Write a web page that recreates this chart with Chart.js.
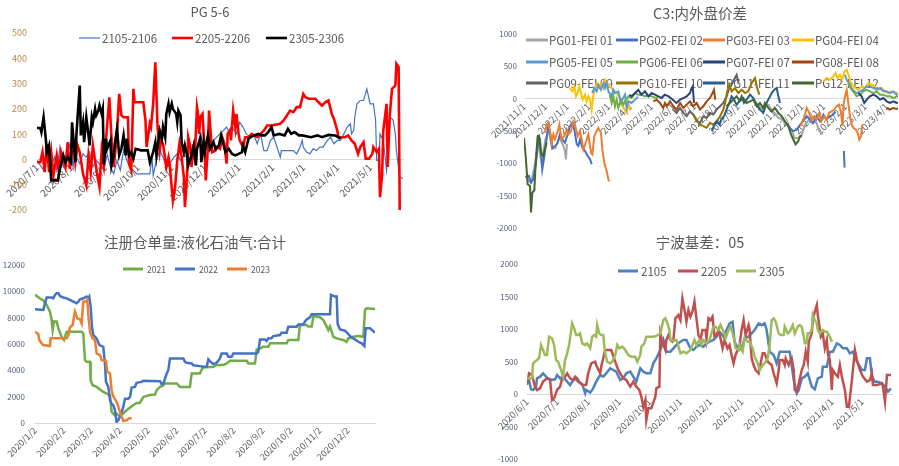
<!DOCTYPE html>
<html><head><meta charset="utf-8">
<script src="https://cdn.jsdelivr.net/npm/chart.js@4.4.1/dist/chart.umd.min.js"></script>
<style>
html,body{margin:0;padding:0;background:#fff;width:899px;height:466px;overflow:hidden;}
canvas{position:absolute;}
</style></head><body>
<canvas id="c1" width="450" height="233" style="left:0;top:0"></canvas>
<canvas id="c2" width="449" height="233" style="left:450px;top:0"></canvas>
<canvas id="c3" width="450" height="233" style="left:0;top:233px"></canvas>
<canvas id="c4" width="449" height="233" style="left:450px;top:233px"></canvas>
<script>
// ===== Chart 1: PG 5-6 (x = days since 2020/7/1) =====
const pgTicks = ['2020/7/1','2020/8/1','2020/9/1','2020/10/1','2020/11/1','2020/12/1','2021/1/1','2021/2/1','2021/3/1','2021/4/1','2021/5/1'];
const s2105 = [[0,-4],[6,-43],[9,22],[12,35],[13,-30],[16,9],[18,-43],[21,49],[24,-30],[27,-4],[30,62],[33,-30],[35,62],[36,9],[39,-17],[42,22],[45,9],[48,29],[51,-30],[54,-4],[57,-17],[61,-43],[64,22],[67,-30],[70,-57],[73,-4],[76,-43],[79,36],[82,-4],[85,-30],[88,-43],[91,-57],[103,-57],[105,9],[106,-63],[109,-4],[112,35],[115,9],[118,-30],[121,-17],[125,9],[128,22],[131,-4],[134,16],[137,9],[140,35],[143,3],[146,49],[149,101],[152,49],[155,75],[158,49],[161,75],[164,88],[167,101],[170,114],[173,128],[176,101],[179,121],[182,101],[185,147],[188,128],[191,101],[195,88],[198,95],[201,62],[204,101],[207,35],[210,35],[213,75],[216,88],[219,49],[222,9],[223,35],[228,35],[234,35],[237,22],[240,49],[242,75],[243,49],[246,29],[249,22],[252,42],[255,35],[258,49],[261,49],[265,75],[268,88],[271,62],[274,75],[277,75],[280,101],[283,128],[286,141],[287,101],[289,114],[290,167],[292,220],[295,233],[298,233],[301,279],[304,220],[307,220],[309,154],[310,-4],[312,-4],[313,101],[316,75],[319,-43],[321,49],[322,167],[324,160],[325,154],[327,101],[328,35],[331,-70],[334,-76]];
const s2205 = [[0,-11],[3,-11],[5,29],[7,-50],[9,62],[11,-50],[13,29],[15,-63],[18,16],[20,-50],[22,29],[26,-30],[28,68],[30,-37],[33,75],[35,-11],[37,55],[39,29],[42,-57],[45,-103],[47,16],[49,-50],[51,55],[55,-63],[57,-109],[59,36],[61,-24],[64,134],[66,246],[68,82],[70,-30],[73,100],[75,259],[77,174],[79,167],[83,167],[84,-17],[86,-43],[88,279],[89,226],[97,226],[99,154],[100,49],[103,141],[104,128],[106,220],[108,384],[110,128],[112,36],[113,75],[115,62],[118,-30],[120,9],[121,-17],[124,-162],[126,-109],[128,-4],[130,62],[132,9],[134,-70],[135,-188],[137,-57],[138,88],[140,49],[141,-30],[143,62],[144,9],[146,207],[147,180],[148,101],[149,167],[151,180],[153,36],[154,-83],[156,49],[157,193],[159,75],[160,29],[163,36],[164,49],[167,42],[169,88],[171,62],[173,-17],[174,101],[176,115],[177,75],[179,193],[181,128],[182,180],[184,101],[185,75],[188,49],[190,88],[193,88],[196,101],[201,88],[204,101],[207,114],[210,134],[214,134],[222,141],[225,154],[228,174],[231,193],[234,187],[237,207],[240,207],[243,259],[245,246],[248,240],[254,240],[257,226],[260,213],[263,226],[266,233],[269,180],[271,160],[274,115],[275,88],[278,88],[281,88],[284,95],[287,75],[290,62],[293,22],[295,49],[298,68],[300,3],[303,3],[306,22],[307,49],[310,29],[312,42],[313,-149],[315,-57],[316,114],[319,220],[320,-30],[322,180],[324,279],[327,292],[328,378],[330,365],[331,-201]];
const s2305 = [[0,124],[3,124],[4,108],[6,167],[8,82],[9,29],[11,55],[13,-83],[16,-83],[19,-83],[21,-37],[24,16],[26,-11],[28,9],[31,-11],[32,147],[35,-11],[36,101],[39,292],[40,95],[42,147],[43,68],[45,167],[47,95],[48,55],[50,167],[51,147],[53,200],[54,174],[56,193],[57,213],[59,180],[60,200],[61,-20],[63,82],[64,42],[67,75],[68,-24],[70,16],[71,62],[73,121],[75,16],[77,42],[79,95],[81,16],[82,82],[84,16],[86,29],[88,3],[90,42],[95,36],[101,36],[103,-11],[106,29],[108,68],[109,16],[112,114],[114,82],[115,128],[117,88],[118,180],[120,220],[121,187],[123,220],[124,200],[127,180],[128,147],[129,193],[131,174],[132,68],[134,29],[135,55],[137,16],[138,-24],[140,3],[141,16],[143,55],[145,-24],[146,42],[149,82],[150,-11],[152,68],[153,29],[156,95],[158,42],[161,68],[163,42],[166,55],[168,95],[172,29],[175,42],[178,22],[181,16],[184,22],[187,29],[188,55],[190,29],[193,82],[195,88],[198,95],[202,101],[205,95],[208,95],[211,108],[214,128],[216,95],[221,101],[226,95],[229,121],[232,101],[235,108],[239,95],[242,95],[250,88],[256,95],[260,88],[266,97],[272,95],[275,88],[277,82]];

// ===== Chart 2: C3 内外盘价差 (x = days since 2021/11/1) =====
const c3Ticks = ['2021/11/1','2021/12/1','2022/1/1','2022/2/1','2022/3/1','2022/4/1','2022/5/1','2022/6/1','2022/7/1','2022/8/1','2022/9/1','2022/10/1','2022/11/1','2022/12/1','2023/1/1','2023/2/1','2023/3/1','2023/4/1'];
const pg01 = [[5,-1250],[10,-1300],[16,-1000],[20,-650],[25,-1000],[30,-650],[35,-480],[40,-780],[45,-760],[50,-600],[55,-700],[58,-800],[59.7,-940],[61,-700],[62,null],[330,-60],[335,-120],[340,-170],[343,-80],[348,-100],[352,-180],[357,-230],[362,-300],[366,-310],[371,-360],[376,-410],[381,-500],[385,-605],[390,-610],[395,-560],[400,-400],[405,-330],[410,-380],[415,-350],[420,-500],[425,-550]];
const pg02 = [[2,-1200],[3.8,-1220],[7,-1195],[10,-1297],[13,-1250],[16.6,-1041],[20.4,-656],[22.8,-630],[26,-1092],[29,-887],[32,-630],[34.6,-425],[38.4,-605],[40.3,-759],[44,-733],[48,-682],[51,-553],[54.5,-630],[58.3,-682],[62,-553],[65.4,-425],[68.8,-374],[71.6,-477],[75,-707],[77.3,-733],[79.7,-630],[83,-759],[86.8,-810],[90.6,-887],[94,-938],[96.3,-1015],[97,null],[372,-374],[378,-450],[383,-502],[388,-480],[393,-400],[397,-349],[402,-272],[407,-323],[411.5,-374],[416,-272],[421,-349],[426,-246],[430,-323],[435,-272],[440,-246],[443,-200],[444,null],[455,-810],[456,-1067]];
const pg03 = [[30,-528],[32,-400],[34.6,-374],[37,-502],[39.4,-682],[41.7,-553],[44,-630],[48,-502],[50.3,-400],[53.6,-630],[57.4,-580],[60.7,-477],[63,-553],[67,-502],[70,-349],[72.5,-400],[76.3,-580],[79.7,-502],[82,-630],[84.4,-785],[87.7,-682],[91.5,-553],[95.3,-836],[97.2,-862],[100,-580],[103.4,-502],[105.7,-451],[109.5,-528],[111.4,-785],[114.3,-990],[117.6,-1118],[120,-1246],[121,-1280],[122,null],[393,-426],[399,-272],[402,-144],[405,-200],[409,-323],[413,-272],[416,-323],[420,-220],[423,-349],[427,-272],[430.5,-323],[434,-220],[437.6,-195],[441.4,-169],[444.7,-118],[448,-92],[451,-220],[453,-420],[454.5,-100],[456.6,36],[459,140],[461.3,-67],[463.7,-272],[466,-400],[468.5,-451],[471.8,-477],[474.6,-528],[477,-631],[479.4,-580],[481.3,-400]];
const pg04 = [[65,164],[68.8,113],[71.6,190],[74,36],[76.3,87],[78.7,190],[81,87],[83.5,-15],[86.8,62],[89,-41],[91.5,36],[94,-15],[96.3,-169],[98.6,62],[101,138],[103.4,241],[106.7,164],[109.5,241],[113,164],[115.2,292],[117.6,267],[121,190],[124.7,164],[128.5,113],[131.8,87],[135,36],[139,-92],[142.7,-169],[146,-220],[148.4,-67],[150.8,-169],[152,null],[426,267],[430.5,318],[435,292],[440,344],[443.3,395],[446,318],[449.5,369],[452.8,292],[455.7,420],[459,446],[462.3,344],[465,241],[468.5,190],[471.8,164],[475.6,138],[480.3,190],[485,164],[489.8,241],[494.5,215],[499.3,190],[504,138],[508.7,164],[513.5,113],[518,87],[523,113],[527.7,87],[531,100]];
const pg05 = [[97,87],[100,164],[103.4,113],[105.7,215],[109.5,138],[113,241],[115.2,164],[117.6,241],[120,113],[124.7,36],[127,138],[129.4,87],[134.2,113],[138,-67],[140,-15],[143.7,62],[146,-144],[148.4,-41],[153,-67],[158,-15],[162,30],[163,null],[456.6,369],[459,292],[462.3,241],[466,164],[470,113],[473,87],[478,113],[482.7,138],[487.4,190],[492,190],[497,164],[501.6,138],[506.4,164],[511,113],[516,113],[520.6,87],[525.4,113],[530,62],[532,70]];
const pg06 = [[122,62],[124.7,-67],[127,36],[129.4,-118],[131.8,-15],[134.2,-144],[138,-15],[141.3,-92],[143.7,-41],[148.4,36],[153,10],[158,87],[162.6,60],[167,62],[172,36],[177,50],[181.6,36],[186,20],[190,10],[191,null],[461,241],[466,138],[470,87],[473,36],[478,62],[482.7,113],[487.4,138],[492,113],[497,87],[501.6,113],[506.4,62],[511,62],[516,36],[520.6,36],[525.4,10],[530,36],[532,40]];
const pg07 = [[150,60],[153,36],[158,87],[162.6,138],[167,62],[172,113],[177,36],[181.6,87],[186.3,62],[191,36],[195.8,10],[200,60],[205,40],[210,0],[217,-67],[222,-15],[226.6,10],[231.4,36],[236,87],[238,150],[240,190],[241.8,-67],[243,null],[475.6,87],[480.3,36],[484,-67],[487.4,-15],[492,36],[497,62],[501.6,36],[506.4,-15],[511,10],[516,-41],[520.6,-67],[525.4,-41],[530,-67],[532,-60]];
const pg08 = [[184,-41],[188.7,-15],[193.4,-67],[198,-144],[200.6,-67],[203,-118],[207.7,-41],[212.4,-118],[217,-169],[222,-67],[226.6,-144],[231.4,-92],[236,-41],[240.9,-118],[245.6,-67],[250.3,-169],[255,-118],[259.8,-41],[264.6,10],[267,62],[270.3,138],[272,-15],[273,null],[516,-144],[520,-169],[525,-144],[530,-160],[532,-150]];
const pg09 = [[212.4,-169],[217,-220],[222,-144],[226.6,-220],[231.4,-272],[236,-195],[240.9,-246],[245.6,-349],[250.3,-374],[255,-272],[259.8,-298],[264.6,-220],[269.3,-246],[274,-169],[278.8,-118],[283.5,-67],[288.3,36],[292,164],[295.4,215],[298.7,292],[302.5,369],[305,241]];
const pg10 = [[241,-246],[245.6,-323],[250.3,-400],[255,-426],[259.8,-451],[264.6,-374],[269.3,-400],[274,-349],[278.8,-272],[283.5,-169],[286,-67],[289.2,113],[292,215],[295.4,113],[300,164],[304.9,87],[309.6,138],[314.4,87],[319,113],[323.8,241],[328.6,318],[331,190],[334.7,62]];
const pg11 = [[267,-502],[270,-426],[274,-349],[278,-400],[281,-323],[284.5,-272],[288,-169],[292,-67],[295.4,36],[298.7,-15],[302.5,-92],[306.3,-41],[309.6,36],[313,-67],[316.7,-15],[321.5,62],[326.2,10],[331,-92],[335.7,-169],[340.4,-220],[345,-67],[347.5,-15],[352.3,87],[356,138],[359.4,164],[361.8,36],[364.1,-67]];
const pg12 = [[0,-605],[2.4,-887],[5.2,-1323],[8.5,-1350],[10,-1759],[11.9,-1451],[14.7,-1420],[16.6,-990],[19.4,-580],[21.3,-570],[24.2,-836],[27.5,-887],[28.9,-810],[32.2,-682],[33,null],[288,-118],[293,-67],[297.8,-15],[302.5,36],[307,-41],[312,10],[316.7,-67],[321.5,-41],[326.2,-15],[331,-118],[335.7,-67],[340.4,-144],[342.8,-67],[347.5,-144],[352.3,-195],[357,-144],[361.8,-220],[366.5,-272],[371.2,-349],[376,-426],[379.8,-554],[383.1,-631],[386.4,-708],[390.2,-656],[392.6,-580],[394,-560]];

// ===== Chart 3: 注册仓单量 (x = days since 2020/1/2) =====
const wrTicks = ['2020/1/2','2020/2/2','2020/3/2','2020/4/2','2020/5/2','2020/6/2','2020/7/2','2020/8/2','2020/9/2','2020/10/2','2020/11/2','2020/12/2'];
const wr2021 = [[0,9750],[5,9470],[9,9300],[12.5,8970],[16,8460],[17.8,7820],[18.9,7060],[20.3,7700],[23.2,7700],[25,7190],[28.5,6550],[31,6300],[33.2,6800],[34,6930],[50,6930],[51.7,6800],[53.5,4780],[55.3,4650],[58.9,4650],[59.6,3250],[61.7,2870],[66,2740],[69.6,2540],[73.1,2360],[76.7,2240],[80.3,2100],[82,840],[83.8,710],[85.6,580],[87.4,710],[91,500],[98,970],[105,1350],[109,1520],[112,1520],[114,1730],[116,1980],[119.5,2060],[123,2130],[128.5,2160],[130.2,2490],[133.8,2740],[137.4,2870],[139.2,3000],[151.7,3000],[155.2,2740],[165.9,2740],[167.7,3760],[176.6,3760],[178.4,4060],[180.2,4220],[190.9,4270],[194.5,4400],[201.6,4400],[205.2,4520],[208.8,4720],[226.6,4720],[228.4,4520],[235.5,4520],[237.3,5590],[240.9,5660],[244.4,5790],[249.8,5790],[251.6,6050],[269.4,6050],[271.2,6300],[281.9,6300],[283.7,7440],[290.8,7440],[292.6,7320],[296.2,7320],[298,8130],[305,8030],[308.7,7820],[310.5,7570],[312.3,7320],[314,7060],[315.8,7320],[319.4,6550],[323,6430],[330.1,6300],[333.7,6170],[335.4,6430],[337.2,6430],[340.8,6550],[346.2,6600],[351.5,6550],[353.3,8590],[355.1,8710],[364,8660]];
const wr2022 = [[0,8640],[9,8590],[10.7,9090],[12.5,9530],[17.8,9530],[19.6,9470],[21.4,9730],[23.2,9860],[25,9860],[26.7,9650],[30.3,9530],[33.9,9470],[37.4,9350],[41,9220],[44.6,9090],[46.4,9220],[48.2,9400],[51.7,9470],[55.3,9600],[57.1,9470],[58.1,9600],[59.6,8840],[61,7310],[62.4,6680],[66,6430],[68.9,5920],[73.1,5790],[74.9,4520],[76,3120],[78.5,2740],[80.3,1730],[82,1470],[83.8,1350],[85.6,970],[87.4,80],[89.2,200],[91.7,580],[94.5,1220],[96.3,1850],[99.9,1850],[101.7,1980],[103.5,2690],[107,2740],[108.8,3050],[114.2,3120],[116,3200],[133.8,3180],[135.6,2950],[137.4,3000],[141,3760],[142.7,4010],[144.5,4900],[158.8,4900],[160.6,4650],[162.4,4570],[167.7,4520],[169.5,4390],[176.6,4320],[180.2,4270],[183.8,4270],[185.6,4830],[189.1,4570],[190.9,4470],[194.5,4570],[198,4900],[199.8,5280],[205.2,5280],[207,5030],[210.5,5030],[212.3,5280],[237.3,5280],[239.1,5410],[240.9,6350],[246.2,6350],[248,6220],[249.8,6430],[253,6430],[255.1,6600],[262.3,6680],[264,6860],[269.4,6860],[271.2,7310],[280.1,7310],[281.9,7490],[287.3,7490],[289,7700],[290.8,7870],[294.4,8030],[296.2,8260],[315.8,8260],[316.9,9730],[321.2,9600],[323,9600],[324,7520],[326.5,7110],[331.9,7010],[335.4,6760],[337.2,6600],[340.8,6430],[346.2,6170],[349.7,6050],[352.6,5840],[354,7190],[358.7,7190],[364,6860]];
const wr2023 = [[0,6930],[3.5,6760],[4.6,6300],[7.1,6050],[8.9,5920],[16,5840],[16.7,6430],[33.9,6430],[35.7,6680],[37.4,7260],[40.3,7440],[41.7,8080],[42.8,8460],[45.3,7950],[48.2,7870],[49.9,7570],[51.7,9220],[54.6,9220],[56,9350],[57.4,7950],[58.9,6930],[61.7,6430],[64.2,6300],[66,5280],[69.6,5160],[71.4,4780],[76,4730],[77.4,3890],[80.3,3760],[82,2490],[83.8,2030],[87.4,1600],[89.2,1220],[91,840],[92.8,460],[94.5,150],[98.1,200],[99.9,330],[103.5,380]];

// ===== Chart 4: 宁波基差 (x = days since 2020/6/1) =====
const nbTicks = ['2020/6/1','2020/7/1','2020/8/1','2020/9/1','2020/10/1','2020/11/1','2020/12/1','2021/1/1','2021/2/1','2021/3/1','2021/4/1','2021/5/1'];
const nb2105 = [[0,164],[2,215],[4,72],[6,62],[9,113],[10,241],[13,267],[16,318],[19,267],[21,241],[25,215],[28,226],[30,292],[33,241],[36,267],[40,190],[43,138],[45,190],[48,241],[51,190],[55,154],[58,10],[59,62],[63,21],[66,87],[69,190],[73,292],[76,267],[79,318],[83,395],[86,369],[89,344],[93,215],[96,241],[99,318],[103,344],[106,267],[109,190],[113,395],[116,344],[119,318],[123,318],[126,472],[129,549],[133,677],[136,831],[139,651],[143,651],[146,703],[149,754],[153,805],[156,831],[159,831],[163,703],[166,677],[169,728],[172,754],[176,728],[179,779],[182,805],[186,831],[189,882],[192,959],[196,882],[199,985],[202,1087],[205,1113],[207,805],[211,677],[214,703],[217,856],[221,882],[224,933],[227,985],[231,1087],[234,1061],[237,1087],[239,985],[242,651],[246,600],[249,472],[252,651],[256,651],[259,651],[262,651],[266,215],[269,10],[271,62],[274,241],[277,267],[280,318],[284,113],[287,72],[290,241],[294,267],[295,420],[299,420],[302,651],[305,651],[309,779],[312,754],[315,703],[319,703],[322,626],[325,651],[329,497],[334,369],[337,369],[339,549],[342,549],[344,267],[347,190],[350,190],[354,164],[357,113],[360,36],[363,87]];
const nb2205 = [[0,138],[2,318],[5,292],[8,113],[10,62],[13,87],[16,190],[20,241],[23,215],[25,-92],[27,-67],[30,62],[33,113],[35,241],[38,267],[40,318],[43,241],[46,215],[48,267],[50,241],[53,164],[56,138],[59,138],[61,318],[64,472],[68,497],[69,446],[73,318],[74,420],[78,677],[81,677],[84,677],[88,497],[91,369],[93,318],[96,241],[99,215],[103,113],[106,190],[109,113],[112,62],[114,-41],[116,-195],[118,-92],[119,-400],[121,-220],[124,-220],[128,-41],[129,87],[132,113],[133,933],[135,805],[138,677],[139,831],[141,907],[143,831],[145,805],[146,831],[148,1164],[151,1215],[153,1138],[155,1471],[158,1215],[159,1113],[161,1292],[163,1190],[165,1266],[167,1420],[169,1164],[171,907],[173,831],[175,985],[178,985],[179,856],[181,1164],[183,1138],[185,1190],[187,882],[189,907],[191,985],[193,856],[195,703],[197,831],[200,703],[202,754],[204,600],[206,472],[208,600],[210,677],[212,754],[214,985],[216,1138],[218,907],[221,1061],[222,985],[224,549],[226,446],[228,369],[231,318],[233,472],[235,626],[237,626],[240,497],[242,472],[244,446],[246,318],[249,164],[251,369],[252,523],[255,523],[257,446],[258,549],[261,446],[262,497],[264,549],[266,369],[267,62],[269,36],[271,164],[274,369],[276,446],[278,651],[280,497],[281,805],[284,933],[285,1138],[287,1266],[289,1369],[290,1215],[293,882],[295,933],[297,703],[299,831],[300,626],[302,523],[304,62],[305,369],[307,318],[310,267],[312,446],[314,267],[317,62],[319,-195],[321,-195],[324,215],[327,677],[329,523],[332,369],[335,267],[339,190],[342,215],[344,318],[345,138],[349,138],[354,164],[355,113],[357,-118],[359,292],[363,292]];
const nb2305 = [[0,241],[5,241],[6,472],[10,523],[12,549],[14,754],[16,677],[18,600],[20,600],[22,882],[25,856],[27,754],[29,523],[31,497],[34,369],[36,267],[38,523],[40,626],[42,754],[45,1087],[47,1010],[49,907],[51,907],[53,933],[55,779],[58,754],[60,779],[63,703],[65,882],[67,907],[69,882],[70,1061],[72,933],[74,907],[76,907],[78,626],[80,497],[83,472],[85,497],[88,600],[90,754],[92,703],[95,728],[98,677],[101,600],[104,574],[108,574],[110,497],[113,600],[114,728],[117,779],[119,882],[123,882],[126,882],[129,893],[133,933],[136,1138],[138,1164],[140,1087],[142,985],[143,831],[146,820],[149,831],[153,626],[156,651],[159,626],[163,677],[165,754],[167,831],[169,754],[172,831],[174,754],[176,831],[179,779],[182,831],[186,1036],[188,1036],[191,985],[193,1061],[196,959],[198,856],[201,985],[203,1036],[206,882],[208,703],[211,677],[212,754],[215,651],[217,856],[220,805],[222,805],[225,703],[227,574],[230,472],[232,369],[235,446],[237,472],[240,549],[242,754],[244,1138],[246,1164],[248,1113],[251,933],[253,907],[256,907],[257,1036],[260,933],[262,959],[265,1061],[267,933],[270,1036],[272,1061],[274,1036],[276,882],[277,779],[279,779],[280,933],[282,933],[284,985],[285,1215],[287,1138],[289,1087],[290,985],[292,933],[295,985],[297,959],[299,959],[302,882],[304,805]];

// ===== rendering =====
const FONT = "'Noto Sans CJK SC','Noto Sans',sans-serif";
function dayOf(start, s) {
  const p = s.split('/').map(Number), q = start.split('/').map(Number);
  return Math.round((Date.UTC(p[0], p[1] - 1, p[2]) - Date.UTC(q[0], q[1] - 1, q[2])) / 86400000);
}
function noPad(sc) { sc.paddingTop = 0; sc.paddingBottom = 0; sc.paddingLeft = 0; sc.paddingRight = 0; }
function makeOverlay(cfg) {
  return {
    id: 'overlay',
    beforeDatasetsDraw(chart) {
      const ctx = chart.ctx;
      ctx.save();
      ctx.fillStyle = '#595959';
      ctx.textAlign = 'center';
      ctx.textBaseline = 'middle';
      ctx.font = cfg.titleSize + 'px ' + FONT;
      ctx.fillText(cfg.title, cfg.titlePos[0], cfg.titlePos[1]);
      ctx.textAlign = 'left';
      ctx.font = cfg.legendSize + 'px ' + FONT;
      cfg.legendPos.forEach((p, i) => {
        const ds = chart.data.datasets[i];
        ctx.strokeStyle = ds.borderColor;
        ctx.lineWidth = cfg.sampleWidth || ds.borderWidth;
        ctx.beginPath();
        ctx.moveTo(p[0], p[1]);
        ctx.lineTo(p[0] + cfg.sampleLen, p[1]);
        ctx.stroke();
        ctx.fillStyle = '#595959';
        ctx.fillText(ds.label, p[0] + cfg.sampleLen + cfg.gap, p[1] + 0.5);
      });
      ctx.restore();
    }
  };
}
function makeChart(id, cfg) {
  const tickDays = cfg.ticks.map(s => dayOf(cfg.start, s));
  return new Chart(document.getElementById(id), {
    type: 'line',
    data: {
      datasets: cfg.series.map((s, i) => ({
        label: s.label,
        data: s.data.map(p => ({ x: p[0], y: p[1] })),
        borderColor: s.color,
        borderWidth: s.width,
        pointRadius: 0, pointHoverRadius: 0, tension: 0, fill: false, spanGaps: false,
        order: -i
      }))
    },
    options: {
      responsive: false, animation: false, devicePixelRatio: 1, events: [],
      layout: { padding: cfg.padding, autoPadding: false },
      plugins: { legend: { display: false }, title: { display: false }, tooltip: { enabled: false } },
      scales: {
        x: {
          type: 'linear', position: { y: cfg.axisAt }, min: 0, max: dayOf(cfg.start, cfg.end),
          afterBuildTicks: sc => { sc.ticks = tickDays.map(v => ({ value: v })); },
          afterFit: noPad,
          ticks: {
            autoSkip: false, minRotation: 45, maxRotation: 45, padding: 2, color: '#595959',
            font: { family: FONT, size: cfg.xFont },
            callback: v => cfg.ticks[tickDays.indexOf(v)]
          },
          grid: { display: false, drawTicks: false },
          border: { display: true, color: '#d9d9d9', width: 1 }
        },
        y: {
          type: 'linear', position: 'left', min: cfg.yMin, max: cfg.yMax,
          ticks: { stepSize: cfg.yStep, color: cfg.yColor, padding: cfg.yPad, font: { family: FONT, size: cfg.yFont }, callback: v => String(v) },
          grid: { display: false, drawTicks: false },
          border: { display: false },
          afterFit: sc => { sc.width = cfg.yWidth; noPad(sc); }
        }
      }
    },
    plugins: [makeOverlay(cfg)]
  });
}

makeChart('c1', {
  start: '2020/7/1', end: '2021/5/31', ticks: pgTicks, axisAt: 0,
  yMin: -200, yMax: 500, yStep: 100, yColor: '#b9894c', yFont: 9, yPad: 10, yWidth: 37, xFont: 10,
  padding: { left: 0, right: 47, top: 33, bottom: 23 },
  title: 'PG 5-6', titleSize: 13, titlePos: [210, 12],
  legendSize: 11.5, legendPos: [[79, 38], [172, 38], [266, 38]], sampleLen: 21, gap: 2,
  series: [
    { label: '2105-2106', data: s2105, color: '#4472C4', width: 1.2 },
    { label: '2205-2206', data: s2205, color: '#FF0000', width: 2.6 },
    { label: '2305-2306', data: s2305, color: '#000000', width: 2.6 }
  ]
});

makeChart('c2', {
  start: '2021/11/1', end: '2023/4/17', ticks: c3Ticks, axisAt: 0,
  yMin: -2000, yMax: 1000, yStep: 500, yColor: '#56627a', yFont: 8, yPad: 7, yWidth: 74, xFont: 9.5,
  padding: { left: 0, right: 1, top: 34, bottom: 5 },
  title: 'C3:内外盘价差', titleSize: 14.5, titlePos: [250, 13],
  legendSize: 11.5, sampleLen: 22, gap: 1, sampleWidth: 3,
  legendPos: [[76, 40], [166, 40], [253, 40], [342, 40], [76, 62], [166, 62], [253, 62], [342, 62], [76, 83], [166, 83], [253, 83], [342, 83]],
  series: [
    { label: 'PG01-FEI 01', data: pg01, color: '#A5A5A5', width: 2 },
    { label: 'PG02-FEI 02', data: pg02, color: '#4472C4', width: 2 },
    { label: 'PG03-FEI 03', data: pg03, color: '#ED7D31', width: 2 },
    { label: 'PG04-FEI 04', data: pg04, color: '#FFC000', width: 2 },
    { label: 'PG05-FEI 05', data: pg05, color: '#5B9BD5', width: 2 },
    { label: 'PG06-FEI 06', data: pg06, color: '#70AD47', width: 2 },
    { label: 'PG07-FEI 07', data: pg07, color: '#264478', width: 2 },
    { label: 'PG08-FEI 08', data: pg08, color: '#9E480E', width: 2 },
    { label: 'PG09-FEI 09', data: pg09, color: '#636363', width: 2 },
    { label: 'PG10-FEI 10', data: pg10, color: '#997300', width: 2 },
    { label: 'PG11-FEI 11', data: pg11, color: '#255E91', width: 2 },
    { label: 'PG12-FEI 12', data: pg12, color: '#43682B', width: 2 }
  ]
});

makeChart('c3', {
  start: '2020/1/2', end: '2020/12/31', ticks: wrTicks, axisAt: 0,
  yMin: 0, yMax: 12000, yStep: 2000, yColor: '#56627a', yFont: 8, yPad: 10, yWidth: 35, xFont: 9,
  padding: { left: 0, right: 75, top: 32, bottom: 43 },
  title: '注册仓单量:液化石油气:合计', titleSize: 14.5, titlePos: [195, 9],
  legendSize: 8.5, legendPos: [[123, 36], [175, 36], [227, 36]], sampleLen: 20, gap: 4, sampleWidth: 3,
  series: [
    { label: '2021', data: wr2021, color: '#70AD47', width: 2.5 },
    { label: '2022', data: wr2022, color: '#4472C4', width: 2.5 },
    { label: '2023', data: wr2023, color: '#ED7D31', width: 2.5 }
  ]
});

makeChart('c4', {
  start: '2020/6/1', end: '2021/5/31', ticks: nbTicks, axisAt: 0,
  yMin: -1000, yMax: 2000, yStep: 500, yColor: '#56627a', yFont: 8, yPad: 9, yWidth: 77, xFont: 9.5,
  padding: { left: 0, right: 7, top: 31, bottom: 7 },
  title: '宁波基差：05', titleSize: 14.5, titlePos: [250, 9],
  legendSize: 11.5, legendPos: [[168, 38], [228, 38], [286, 38]], sampleLen: 20, gap: 3, sampleWidth: 3,
  series: [
    { label: '2105', data: nb2105, color: '#4F81BD', width: 2.5 },
    { label: '2205', data: nb2205, color: '#C0504D', width: 2.5 },
    { label: '2305', data: nb2305, color: '#9BBB59', width: 2.5 }
  ]
});
</script>
</body></html>
